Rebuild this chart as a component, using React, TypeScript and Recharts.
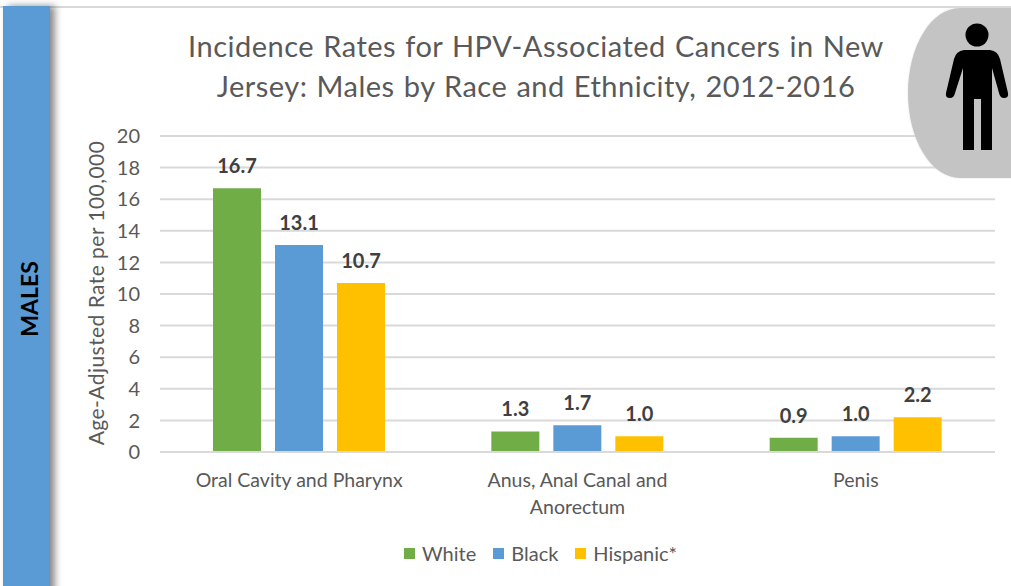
import React from "react";
import { BarChart, Bar, XAxis, YAxis, CartesianGrid, Legend, LabelList, Text } from "recharts";

const categories = ["Oral Cavity and Pharynx", "Anus, Anal Canal and Anorectum", "Penis"];
const white = [16.7, 1.3, 0.9];
const black = [13.1, 1.7, 1.0];
const hispanic = [10.7, 1.0, 2.2];
const yTicks = [0, 2, 4, 6, 8, 10, 12, 14, 16, 18, 20];
const titleLines = ["Incidence Rates for HPV-Associated Cancers in New", "Jersey: Males by Race and Ethnicity, 2012-2016"];
const data = categories.map((name, i) => ({ name, White: white[i], Black: black[i], "Hispanic*": hispanic[i] }));

const FONT = "Lato, 'Open Sans', sans-serif";
const TEXT = "#595959";

const CatTick = (props: any) => {
  const { x, y, payload } = props;
  return (
    <Text x={x} y={y + 27} width={200} textAnchor="middle" verticalAnchor="middle" lineHeight={27}
      fontFamily={FONT} fontSize={19.5} fill={TEXT}>
      {payload.value}
    </Text>
  );
};

const LegendContent = (props: any) => (
  <div style={{ display: "flex", alignItems: "center", fontFamily: FONT, fontSize: 20, color: TEXT, height: 24 }}>
    {(props.payload || []).map((p: any, i: number) => (
      <span key={p.value} style={{ display: "flex", alignItems: "center", marginRight: 17 }}>
        <span style={{ width: 11, height: 11, background: p.color, marginRight: 7, display: "inline-block" }} />
        {p.value}
      </span>
    ))}
  </div>
);

const fmt = (v: any) => Number(v).toFixed(1);
const labelStyle = { fontFamily: FONT, fontSize: 20, fontWeight: 700, fill: "#404040" };

export default function App() {
  return (
    <div style={{ position: "absolute", left: 0, top: 0, width: 1011, height: 586, overflow: "hidden", background: "#fff" }}>
      <div style={{ position: "absolute", left: 0, top: 6, width: 1011, height: 2, background: "#d9d9d9" }} />
      <div style={{ position: "absolute", left: 0, top: 0 }}>
        <BarChart width={1011} height={586} data={data} barSize={48} barGap={14}
          margin={{ top: 136, right: 16, bottom: 0, left: 120 }}>
          <CartesianGrid vertical={false} stroke="#d9d9d9" strokeWidth={2} />
          <XAxis dataKey="name" height={110} tick={<CatTick />} tickLine={false} axisLine={{ stroke: "#d9d9d9", strokeWidth: 2 }} interval={0} />
          <YAxis width={40} domain={[0, 20]} ticks={yTicks} interval={0} tickLine={false} axisLine={false} tickMargin={14}
            tick={{ fontFamily: FONT, fontSize: 20, fill: TEXT }} />
          <Legend content={<LegendContent />} itemSorter={null} height={0}
            wrapperStyle={{ position: "absolute", left: 404, top: 541, width: 320, height: 24, bottom: "auto" }} />
          <Bar dataKey="White" fill="#70ad47" isAnimationActive={false}>
            <LabelList dataKey="White" position="top" offset={15} formatter={fmt} style={labelStyle} />
          </Bar>
          <Bar dataKey="Black" fill="#5b9bd5" isAnimationActive={false}>
            <LabelList dataKey="Black" position="top" offset={15} formatter={fmt} style={labelStyle} />
          </Bar>
          <Bar dataKey="Hispanic*" fill="#ffc000" isAnimationActive={false}>
            <LabelList dataKey="Hispanic*" position="top" offset={15} formatter={fmt} style={labelStyle} />
          </Bar>
          <text transform="translate(99 293) rotate(-90)" textAnchor="middle" dominantBaseline="middle"
            fontFamily={FONT} fontSize={21} letterSpacing={0.45} fill={TEXT}>Age-Adjusted Rate per 100,000</text>
          <text textAnchor="middle" fontFamily={FONT} fontSize={29} fill={TEXT} letterSpacing={0.5} wordSpacing={1.2}>
            <tspan x={536} y={57}>{titleLines[0]}</tspan>
            <tspan x={536} y={97}>{titleLines[1]}</tspan>
          </text>
        </BarChart>
      </div>
      {/* left band */}
      <div style={{ position: "absolute", left: 3, top: 6, width: 47, height: 590, background: "#5b9bd5", borderLeft: "1px solid #7f8fa0", borderRight: "1px solid #7f8fa0", boxShadow: "5px 0 7px rgba(0,0,0,0.45)", boxSizing: "border-box" }} />
      <div style={{ position: "absolute", left: -21, top: 287, width: 100, height: 24, lineHeight: "24px", textAlign: "center", transform: "rotate(-90deg)", fontFamily: FONT, fontWeight: 700, fontSize: 23, color: "#000" }}>MALES</div>
      {/* person badge */}
      <div style={{ position: "absolute", left: 908, top: 8, width: 190, height: 170, borderRadius: "52px / 85px", background: "#c4c4c4", boxShadow: "0 0 2px #ddd" }} />
      <svg style={{ position: "absolute", left: 940, top: 18 }} width={70} height={135} viewBox="0 0 70 135">
        <circle cx={37} cy={17} r={11.5} fill="#000" />
        <path d="M24 32 H50 Q58 33 60 41 L68 75 Q69 80 64 80 Q60 80 59 75 L52 50 V132 H41 V81 H34 V132 H23 V50 L15 75 Q14 80 10 80 Q5 80 6 75 L14 41 Q16 33 24 32 Z" fill="#000" />
      </svg>
    </div>
  );
}
